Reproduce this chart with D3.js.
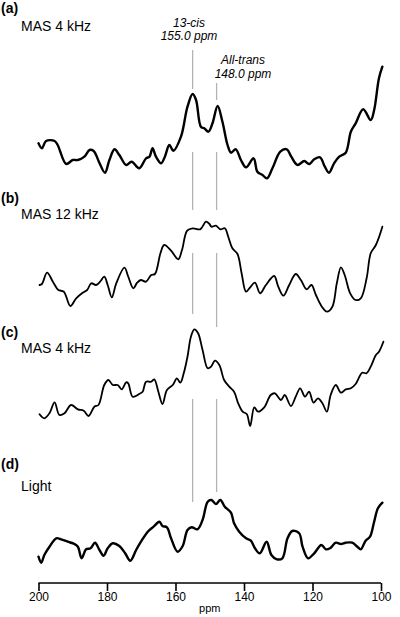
<!DOCTYPE html>
<html>
<head>
<meta charset="utf-8">
<script src="https://cdn.jsdelivr.net/npm/d3@7"></script>
<style>
  body { margin: 0; background: #fff; }
  svg { display: block; font-family: "Liberation Sans", Arial, sans-serif; }
</style>
</head>
<body>
<div id="chart"></div>
<script>
// spectra: chemical shift (ppm) and intensity (arb. units)
const ppmA = [200.0,199.0,197.8,195.3,194.4,191.9,190.0,188.5,186.6,185.1,183.9,182.2,180.6,179.3,177.8,176.4,174.4,172.8,170.6,168.6,167.6,166.7,165.7,164.2,163.1,161.8,160.6,158.4,156.5,155.0,154.0,152.6,151.6,150.4,149.2,147.7,146.3,144.8,143.8,142.4,140.9,139.4,137.2,136.1,134.6,133.3,131.7,129.4,127.5,126.2,124.4,122.4,121.0,119.5,117.8,116.4,115.2,113.7,112.2,110.3,108.8,107.4,105.2,103.0,102.0,100.6,99.6];
const intA = [36.7,31.7,39,39,35,16,20,20,23.3,30,29,17,7.3,20,30.7,25,15,18.3,11.7,21.7,23.3,31.7,23.3,16.7,23.3,35,29.3,43.3,73.3,86,80,53.3,51.7,48.3,56.7,74,58.3,35,27.3,30.7,20,12.7,21.7,8.3,5,1.7,11.7,28.3,30.7,23.3,15,19,16,20.7,22.7,13.3,7.3,16.7,23.3,27.3,48.3,56.7,70.7,60,70,101.7,113.3];

const ppmB = [199.7,199.0,197.5,195.8,194.2,192.6,190.7,189.0,187.1,185.8,184.6,183.2,182.0,180.8,179.8,178.6,177.3,174.9,173.8,172.3,171.2,170.1,168.6,167.1,166.0,164.4,163.3,161.3,159.2,158.1,156.6,155.0,152.8,151.1,150.1,149.5,148.2,146.9,145.6,144.6,143.4,141.9,140.7,139.4,138.2,136.8,135.3,133.6,131.2,130.0,128.5,126.8,124.9,123.4,121.7,120.3,119.0,117.4,115.8,114.2,112.9,111.7,110.6,109.0,107.4,105.9,104.2,103.0,101.5,99.6];
const intB = [30,31,42.3,33.3,25,23.3,9,16.7,22.3,25,31.7,30,33.3,38.3,30,17.7,31.7,47.3,38.3,26.7,32.3,35,33.3,40,41,61.7,70,64.3,55.7,65,84.3,86.7,85.7,93.3,91,88.3,89.3,85.7,86.7,78.3,66.7,61,41.7,23.3,27.7,32.3,21.7,30,39,28.3,19.3,30,41,35,25.7,30,20,9,3.3,8.3,31.7,47.7,40,21.7,15,16.7,36.7,61.7,70,88.3];

const ppmC = [199.7,198.3,196.8,195.3,193.9,192.4,190.5,188.5,186.8,185.4,183.7,182.5,180.8,179.6,178.3,176.9,175.7,174.4,173.8,172.5,170.6,169.6,168.6,167.1,166.2,165.0,163.8,162.5,160.8,159.6,158.6,157.6,156.5,155.5,154.5,153.4,152.1,150.6,149.6,148.5,147.2,145.8,144.3,142.9,141.7,140.4,139.2,138.2,137.0,135.9,134.1,132.2,131.0,129.2,128.1,126.3,124.9,123.6,122.2,121.0,119.7,118.4,117.1,115.8,114.7,113.2,111.7,110.3,108.8,107.4,105.5,104.2,103.0,101.5,100.6,99.3];
const intC = [15.7,11.7,16.7,27.7,15,16.7,25,20.7,19.3,14,23.3,25,45,50,45,45,40.7,47.7,46.7,33.3,36,38.3,48.3,48.3,50.7,38.3,26,40,45,51.7,47.3,56.7,73.3,93.3,100.7,96.7,80,61.7,63.3,69.3,65,50,43.3,38.3,26.7,18.3,16,4,22.7,18.3,22.7,35,36.7,30,35,24,33.3,41.7,33.3,38.3,27.3,31.7,26.7,18.3,35,45,37.3,40.7,41.7,46,57.3,56.7,63.3,75,78.3,88.3];

const ppmD = [200.0,199.2,198.3,196.8,194.8,193.4,191.5,189.5,188.5,187.4,186.1,184.8,183.5,182.2,181.0,179.8,178.3,176.4,174.7,173.2,171.5,169.9,168.1,166.4,164.7,163.8,162.5,161.3,159.4,157.9,156.5,155.3,153.6,152.1,150.6,149.5,148.2,146.9,145.6,143.8,142.9,141.4,139.4,138.0,136.8,135.4,133.4,132.0,130.4,128.8,127.3,125.9,123.9,122.9,121.3,119.5,117.4,116.1,114.9,113.2,111.7,110.3,108.4,106.9,105.9,104.5,103.2,102.0,100.9,99.6];
const intD = [8.3,2.3,10,18.3,26.7,25.7,23.3,21,18.3,6.7,15.7,16.7,22.3,15,9.3,16.7,21.7,19,11.7,4.3,15,24.3,33.3,38.3,43.3,39,37.7,26.7,13.3,19,35,37.7,35.7,45,63.3,65,61,65,58.3,52.3,41.7,33.3,26.7,24.3,16.7,11.7,23.3,10,5.7,6.7,26.7,34,31.7,18.3,6.7,11.7,20,15.7,16.7,22.3,21,22.3,22.3,18.3,15.7,24.3,28.3,43.3,56.7,62.3];

const panelTags = ["(a)", "(b)", "(c)", "(d)"];
const panelNames = ["MAS 4 kHz", "MAS 12 kHz", "MAS 4 kHz", "Light"];
const markerPpm = [155.0, 148.0];
const markerNames = ["13-cis", "All-trans"];
const markerLabels = ["155.0 ppm", "148.0 ppm"];
const tickValues = [200, 180, 160, 140, 120, 100];

const W = 400, H = 617;
const svg = d3.select("#chart").append("svg").attr("width", W).attr("height", H);

const x = d3.scaleLinear().domain([200, 100]).range([38.5, 381]);

// layout of the four stacked traces
const panels = [
  { ppm: ppmA, val: intA, base: 180, tagY: 13, nameY: 30.5, sw: 2.4 },
  { ppm: ppmB, val: intB, base: 315, tagY: 203, nameY: 219, sw: 1.8 },
  { ppm: ppmC, val: intC, base: 430, tagY: 337, nameY: 352.5, sw: 1.8 },
  { ppm: ppmD, val: intD, base: 565, tagY: 469, nameY: 491, sw: 2.4 }
];

// grey guide segments at the two isomer shifts
const guideSegs = [
  [[50, 89], [152, 210], [253, 314], [399, 502]],
  [[83, 100], [152, 210], [253, 327], [399, 492]]
];
const guides = svg.append("g").attr("stroke", "#b3b3b3").attr("stroke-width", 1.3);
markerPpm.forEach((p, i) => {
  guideSegs[i].forEach(s => {
    guides.append("line")
      .attr("x1", x(p)).attr("x2", x(p))
      .attr("y1", s[0]).attr("y2", s[1]);
  });
});

// marker labels
const labelPos = [{ cx: 189, y1: 26.5, y2: 40 }, { cx: 243, y1: 63.5, y2: 77.5 }];
markerNames.forEach((n, i) => {
  const t = svg.append("text")
    .attr("text-anchor", "middle")
    .style("font-style", "italic")
    .style("font-size", "12px");
  t.append("tspan").attr("x", labelPos[i].cx).attr("y", labelPos[i].y1).text(n);
  t.append("tspan").attr("x", labelPos[i].cx).attr("y", labelPos[i].y2).text(markerLabels[i]);
});

panels.forEach((p, i) => {
  const y = d3.scaleLinear().domain([0, 100]).range([p.base, p.base - 100]);
  const line = d3.line()
    .x((d, j) => x(p.ppm[j]))
    .y(d => y(d))
    .curve(d3.curveCatmullRom.alpha(0.5));

  svg.append("path")
    .attr("d", line(p.val))
    .attr("fill", "none")
    .attr("stroke", "#000")
    .attr("stroke-width", p.sw)
    .attr("stroke-linejoin", "round")
    .attr("stroke-linecap", "round");

  svg.append("text")
    .attr("x", 1).attr("y", p.tagY)
    .style("font-weight", "bold")
    .style("font-size", "14px")
    .text(panelTags[i]);

  svg.append("text")
    .attr("x", 21).attr("y", p.nameY)
    .style("font-size", "14px")
    .text(panelNames[i]);
});

// ppm axis
const axis = svg.append("g")
  .attr("transform", "translate(0,583)")
  .call(d3.axisBottom(x).tickValues(tickValues).tickSize(8).tickPadding(1).tickFormat(d3.format("d")));
axis.select(".domain").attr("stroke-width", 1.6).attr("d", `M${x(200)},0H${x(100)}`);
axis.selectAll(".tick line").attr("stroke-width", 1.6);
axis.selectAll(".tick text")
  .style("font-family", "Liberation Sans, Arial, sans-serif")
  .style("font-size", "12px")
  .attr("fill", "#000");

svg.append("text")
  .attr("x", x(150)).attr("y", 612)
  .attr("text-anchor", "middle")
  .style("font-size", "11px")
  .text("ppm");
</script>
</body>
</html>
